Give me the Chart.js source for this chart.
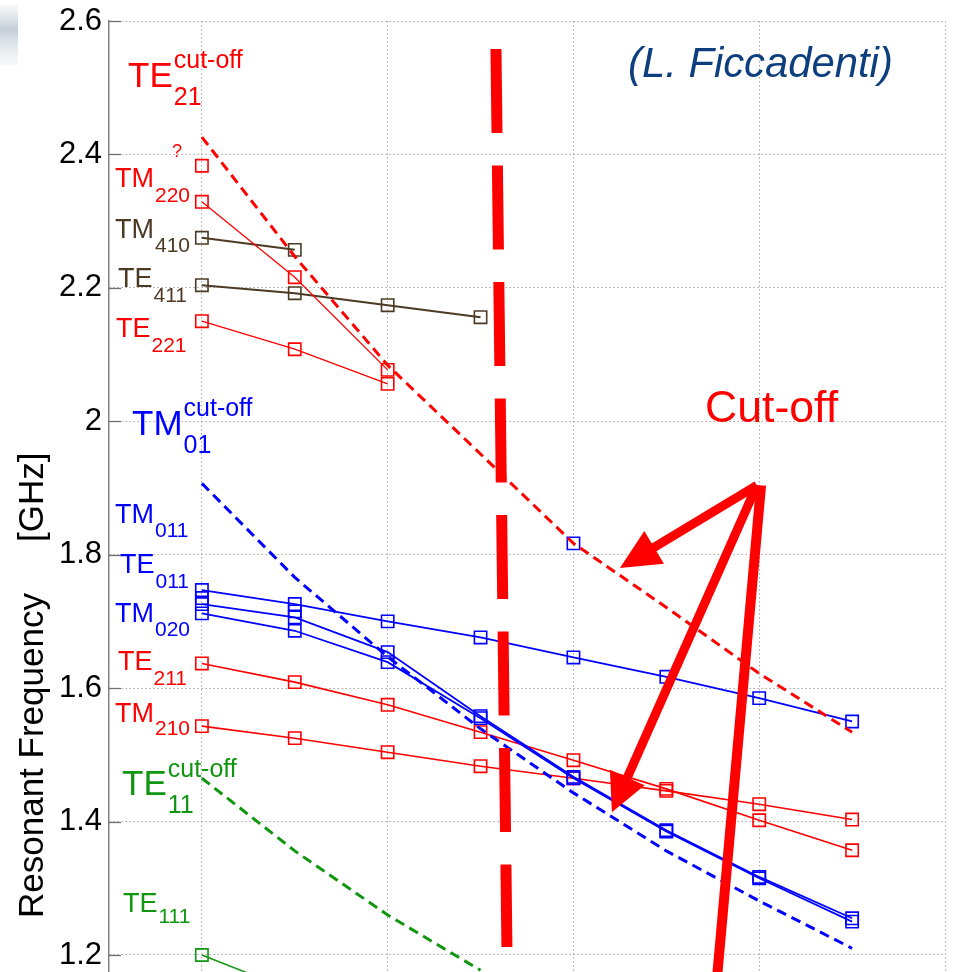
<!DOCTYPE html>
<html><head><meta charset="utf-8">
<script src="https://cdn.jsdelivr.net/npm/chart.js@4.4.0/dist/chart.umd.min.js"></script>
<style>html,body{margin:0;padding:0;background:#fff;}#wrap{width:961px;height:972px;}</style>
</head><body><div id="wrap"><canvas id="c" width="961" height="972"></canvas></div>
<script>
// ---- data ----
const xIndex = [0, 1, 2, 3, 4, 5, 6, 7];
const xGridValues = [0, 2, 4, 6, 8];
const yTickValues = [1.2, 1.4, 1.6, 1.8, 2.0, 2.2, 2.4, 2.6];
const yTickLabels = ['1.2', '1.4', '1.6', '1.8', '2', '2.2', '2.4', '2.6'];

const te21Cutoff = [2.426, 2.247, 2.084, 1.951, 1.817, 1.721, 1.622, 1.534];
const tm01Cutoff = [1.907, 1.766, 1.647, 1.539, 1.443, 1.356, 1.281, 1.210];
const te11Cutoff = [1.465, 1.356, 1.260, 1.177];

const tm220Query = [2.383];
const tm220 = [2.329, 2.216, 2.077];
const tm410 = [2.275, 2.257];
const te411 = [2.204, 2.192, 2.174, 2.156];
const te221 = [2.150, 2.108, 2.056];

const tm011Point = [null, null, null, null, 1.817];
const te011 = [1.747, 1.726, 1.700, 1.676, 1.646, 1.617, 1.585, 1.550];
const tm020a = [1.726, 1.706, 1.654, 1.558, 1.467, 1.387, 1.317, 1.255];
const tm020b = [1.712, 1.686, 1.639, 1.555, 1.465, 1.385, 1.315, 1.250];
const blueExtra = [1.735, 1.715];

const te211 = [1.637, 1.609, 1.575, 1.534, 1.492, 1.449, 1.402, 1.357];
const tm210 = [1.543, 1.525, 1.504, 1.483, 1.465, 1.446, 1.426, 1.403];
const te111 = [1.200, 1.145];

// ---- styling ----
const RED = '#ff0000', BLUE = '#0000ff', GREEN = '#109610', BROWN = '#4d3a24';
const FONT = '"Liberation Sans", Arial, sans-serif';
const yMin = 1.1745, yMax = 2.6;

function pts(arr) {
  return xIndex.map((x, i) => ({ x: x, y: (i < arr.length && arr[i] != null) ? arr[i] : null }));
}
function solid(label, arr, color, w) {
  return { label, data: pts(arr), borderColor: color, borderWidth: w || 1.5,
    pointStyle: 'rect', pointRadius: 8.7, pointBorderWidth: 1.6,
    pointBorderColor: color, pointBackgroundColor: 'rgba(0,0,0,0)', spanGaps: false, tension: 0 };
}
function marks(label, arr, color) {
  const d = solid(label, arr, color); d.showLine = false; return d;
}
function dashed(label, arr, color) {
  return { label, data: pts(arr), borderColor: color, borderWidth: 3, borderDash: [10, 6],
    pointRadius: 0, spanGaps: false, tension: 0 };
}

// mode labels (text), positions kept separately
const modeLabels = [
  { main: 'TE', sup: 'cut-off', sub: '21', color: RED },
  { main: 'TM', sup: 'cut-off', sub: '01', color: BLUE },
  { main: 'TE', sup: 'cut-off', sub: '11', color: GREEN },
  { main: 'TM', sub: '220', color: RED },
  { main: 'TM', sub: '410', color: BROWN },
  { main: 'TE', sub: '411', color: BROWN },
  { main: 'TE', sub: '221', color: RED },
  { main: 'TM', sub: '011', color: BLUE },
  { main: 'TE', sub: '011', color: BLUE },
  { main: 'TM', sub: '020', color: BLUE },
  { main: 'TE', sub: '211', color: RED },
  { main: 'TM', sub: '210', color: RED },
  { main: 'TE', sub: '111', color: GREEN }
];
const modeLabelPos = [
  { x: 128, y: 87, size: 35, small: 25, subY: 105, supY: 68 },
  { x: 132, y: 435, size: 35, small: 25, subY: 453, supY: 416 },
  { x: 122, y: 795, size: 35, small: 25, subY: 813, supY: 777 },
  { x: 115, y: 187, size: 27, small: 21, subY: 202 },
  { x: 115, y: 238, size: 27, small: 21, subY: 252 },
  { x: 118, y: 287, size: 27, small: 21, subY: 302 },
  { x: 116, y: 337, size: 27, small: 21, subY: 352 },
  { x: 115, y: 523, size: 27, small: 21, subY: 537 },
  { x: 120, y: 573, size: 27, small: 21, subY: 588 },
  { x: 115, y: 622, size: 27, small: 21, subY: 636 },
  { x: 118, y: 670, size: 27, small: 21, subY: 685 },
  { x: 115, y: 722, size: 27, small: 21, subY: 735 },
  { x: 123, y: 912, size: 27, small: 21, subY: 923 }
];

const annotationPlugin = {
  id: 'annot',
  afterDraw(chart) {
    const ctx = chart.ctx, xs = chart.scales.x, ys = chart.scales.y;
    const P = (ix, v) => [xs.getPixelForValue(ix), ys.getPixelForValue(v)];
    ctx.save();

    // inward tick marks on the y axis
    ctx.strokeStyle = '#707070'; ctx.lineWidth = 1.3;
    yTickValues.forEach(v => {
      const y = Math.round(ys.getPixelForValue(v)) + 0.5;
      ctx.beginPath(); ctx.moveTo(chart.chartArea.left, y); ctx.lineTo(chart.chartArea.left + 12, y); ctx.stroke();
    });

    // y axis title
    ctx.fillStyle = '#000'; ctx.font = '35px ' + FONT; ctx.textBaseline = 'alphabetic'; ctx.textAlign = 'left';
    ctx.save(); ctx.translate(43, 918); ctx.rotate(-Math.PI / 2);
    ctx.fillText('Resonant Frequency', 0, 0);
    ctx.fillText('[GHz]', 376, 0);
    ctx.restore();

    // mode labels
    modeLabels.forEach((L, i) => {
      const p = modeLabelPos[i];
      ctx.fillStyle = L.color;
      ctx.font = p.size + 'px ' + FONT;
      ctx.fillText(L.main, p.x, p.y);
      const w = ctx.measureText(L.main).width;
      ctx.font = p.small + 'px ' + FONT;
      if (L.sub) ctx.fillText(L.sub, p.x + w + 1, p.subY);
      if (L.sup) ctx.fillText(L.sup, p.x + w + 1, p.supY);
    });
    ctx.fillStyle = RED; ctx.font = '18px ' + FONT;
    ctx.fillText('?', 172, 157);

    // big red dashed vertical line
    const a = P(3.166, 2.558), b = P(3.284, 1.212);
    ctx.strokeStyle = RED; ctx.lineWidth = 11; ctx.lineCap = 'butt';
    ctx.setLineDash([84, 32.5]);
    ctx.beginPath(); ctx.moveTo(a[0], a[1]); ctx.lineTo(b[0], b[1]); ctx.stroke();
    ctx.setLineDash([]);

    // arrows
    function arrow(from, tip, shaftW, headLen, halfW) {
      const dx = tip[0] - from[0], dy = tip[1] - from[1];
      const L = Math.hypot(dx, dy), ux = dx / L, uy = dy / L;
      const bx = tip[0] - ux * headLen, by = tip[1] - uy * headLen;
      ctx.lineWidth = shaftW; ctx.strokeStyle = RED;
      ctx.beginPath(); ctx.moveTo(from[0], from[1]); ctx.lineTo(bx + ux * 2, by + uy * 2); ctx.stroke();
      ctx.fillStyle = RED;
      ctx.beginPath(); ctx.moveTo(tip[0], tip[1]);
      ctx.lineTo(bx - uy * halfW, by + ux * halfW);
      ctx.lineTo(bx + uy * halfW, by - ux * halfW);
      ctx.closePath(); ctx.fill();
    }
    const o = P(5.975, 1.904);
    arrow(o, P(4.50, 1.780), 9, 40, 19);
    arrow(o, P(4.414, 1.414), 9, 38, 19);
    const o2 = P(6.02, 1.904), e3 = P(5.545, 1.165);
    ctx.lineWidth = 10; ctx.beginPath(); ctx.moveTo(o2[0], o2[1]); ctx.lineTo(e3[0], e3[1]); ctx.stroke();

    // texts
    function fitText(txt, style, family, target, x, y, color) {
      ctx.font = style + '40px ' + family;
      const w = ctx.measureText(txt).width;
      const s = 40 * target / w;
      ctx.font = style + s.toFixed(1) + 'px ' + family;
      ctx.fillStyle = color; ctx.fillText(txt, x, y);
    }
    fitText('Cut-off', '', FONT, 133, 705, 422, RED);
    fitText('(L. Ficcadenti)', 'italic ', FONT, 265, 628, 77, '#0d3f7e');

    // slide artefact at top-left
    const g = ctx.createLinearGradient(0, 5, 0, 65);
    g.addColorStop(0, 'rgba(215,222,230,0.25)'); g.addColorStop(0.4, 'rgba(140,158,175,0.5)'); g.addColorStop(1, 'rgba(225,230,235,0.25)');
    ctx.fillStyle = g; ctx.fillRect(0, 5, 18, 60);

    ctx.restore();
  }
};

new Chart(document.getElementById('c'), {
  type: 'line',
  data: {
    datasets: [
      dashed('TE21 cut-off', te21Cutoff, RED),
      dashed('TM01 cut-off', tm01Cutoff, BLUE),
      dashed('TE11 cut-off', te11Cutoff, GREEN),
      marks('TM220 ?', tm220Query, RED),
      solid('TM220', tm220, RED, 1.3),
      solid('TM410', tm410, BROWN, 2),
      solid('TE411', te411, BROWN, 2),
      solid('TE221', te221, RED, 1.3),
      marks('TM011', tm011Point, BLUE),
      solid('TE011', te011, BLUE, 1.8),
      solid('TM020 a', tm020a, BLUE, 1.8),
      solid('TM020 b', tm020b, BLUE, 1.8),
      marks('extra', blueExtra, BLUE),
      solid('TE211', te211, RED, 1.6),
      solid('TM210', tm210, RED, 1.6),
      solid('TE111', te111, GREEN, 1.5)
    ]
  },
  options: {
    responsive: false, animation: false, events: [],
    layout: { autoPadding: false, padding: { left: 0, top: 21, right: 16, bottom: 0 } },
    plugins: { legend: { display: false }, tooltip: { enabled: false } },
    scales: {
      x: {
        type: 'linear', min: -1, max: 8, bounds: 'data', position: 'bottom',
        ticks: { display: false },
        grid: { color: '#a8a8a8', lineWidth: 1, drawTicks: false },
        border: { display: false, dash: [1.5, 2.5] },
        afterBuildTicks: s => { s.ticks = xGridValues.map(v => ({ value: v })); },
        afterFit: s => { s.height = 0; s.paddingLeft = 0; s.paddingRight = 0; s.paddingTop = 0; s.paddingBottom = 0; }
      },
      y: {
        type: 'linear', min: yMin, max: yMax, bounds: 'data', position: 'left',
        ticks: { font: { family: 'Liberation Sans', size: 31 }, color: '#000', padding: 7, autoSkip: false,
          callback: (v) => { const i = yTickValues.findIndex(t => Math.abs(t - v) < 1e-6); return i >= 0 ? yTickLabels[i] : ''; } },
        grid: { color: '#a8a8a8', lineWidth: 1, drawTicks: false },
        border: { display: true, color: '#808080', width: 1.5, dash: [1.5, 2.5] },
        afterBuildTicks: s => { s.ticks = yTickValues.map(v => ({ value: v })); },
        afterFit: s => { s.width = 109; s.paddingTop = 0; s.paddingBottom = 0; }
      }
    }
  },
  plugins: [annotationPlugin]
});
</script></body></html>
